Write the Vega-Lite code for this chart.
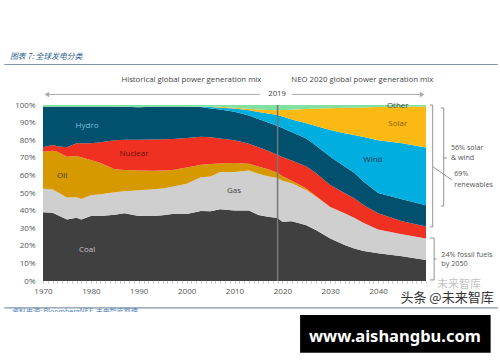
{"$schema":"https://vega.github.io/schema/vega-lite/v6.json","width":383,"height":176,"autosize":{"type":"none"},"padding":{"left":43,"top":105,"right":74,"bottom":81},"background":"#ffffff","config":{"view":{"stroke":null},"axis":{"title":null},"text":{"font":"Open Sans"}},
"datasets":{"mix":[
{"year":1970,"coal":39,"gas":52.4,"oil":73.5,"nuclear":76,"hydro":99,"wind":99,"solar":99,"other":100},
{"year":1972,"coal":38.8,"gas":52,"oil":74,"nuclear":77.3,"hydro":99,"wind":99,"solar":99,"other":100},
{"year":1973,"coal":37.5,"gas":50.5,"oil":73.5,"nuclear":76.5,"hydro":99,"wind":99,"solar":99,"other":100},
{"year":1975,"coal":35,"gas":47.4,"oil":70.6,"nuclear":76,"hydro":99,"wind":99,"solar":99,"other":100},
{"year":1977,"coal":36,"gas":47.6,"oil":71,"nuclear":78.2,"hydro":99,"wind":99,"solar":99,"other":100},
{"year":1978,"coal":35,"gas":46.6,"oil":70.3,"nuclear":78.3,"hydro":99,"wind":99,"solar":99,"other":100},
{"year":1980,"coal":37,"gas":48.7,"oil":68.8,"nuclear":78.3,"hydro":99,"wind":99,"solar":99,"other":100},
{"year":1982,"coal":37,"gas":49.3,"oil":67,"nuclear":78.8,"hydro":99,"wind":99,"solar":99,"other":100},
{"year":1985,"coal":37.7,"gas":50.4,"oil":63.5,"nuclear":80,"hydro":99,"wind":99,"solar":99,"other":100},
{"year":1987,"coal":38.5,"gas":51,"oil":63,"nuclear":80.2,"hydro":99,"wind":99,"solar":99,"other":100},
{"year":1990,"coal":37,"gas":51.5,"oil":62.8,"nuclear":80.3,"hydro":98.7,"wind":98.7,"solar":98.7,"other":100},
{"year":1993,"coal":37,"gas":52.2,"oil":62.6,"nuclear":80.4,"hydro":99,"wind":99,"solar":99,"other":100},
{"year":1995,"coal":37.3,"gas":52.5,"oil":62.8,"nuclear":80.5,"hydro":99,"wind":99,"solar":99,"other":100},
{"year":1997,"coal":38,"gas":53.5,"oil":63,"nuclear":80.7,"hydro":99,"wind":99,"solar":99,"other":100},
{"year":2000,"coal":38,"gas":55.3,"oil":64.5,"nuclear":81.2,"hydro":99,"wind":99,"solar":99,"other":100},
{"year":2003,"coal":39.8,"gas":59,"oil":66,"nuclear":82,"hydro":98.8,"wind":99,"solar":99,"other":100},
{"year":2005,"coal":39.6,"gas":59.4,"oil":66.5,"nuclear":81.7,"hydro":98,"wind":98.8,"solar":99,"other":100},
{"year":2007,"coal":40.7,"gas":62,"oil":66.8,"nuclear":81,"hydro":97.5,"wind":98.5,"solar":99,"other":100},
{"year":2010,"coal":40,"gas":62,"oil":67,"nuclear":80,"hydro":96.2,"wind":98,"solar":98.5,"other":100},
{"year":2013,"coal":40,"gas":62.8,"oil":66.6,"nuclear":78,"hydro":94,"wind":97,"solar":97.8,"other":100},
{"year":2015,"coal":37.5,"gas":61,"oil":65,"nuclear":76,"hydro":92,"wind":96,"solar":97.5,"other":100},
{"year":2017,"coal":36.5,"gas":59.5,"oil":63.5,"nuclear":74,"hydro":90,"wind":95.2,"solar":97.2,"other":100},
{"year":2019,"coal":35.8,"gas":58.5,"oil":61.5,"nuclear":71.6,"hydro":88,"wind":94.3,"solar":97,"other":100},
{"year":2020,"coal":33.6,"gas":57,"oil":59.5,"nuclear":70.5,"hydro":87,"wind":93.5,"solar":97.2,"other":100},
{"year":2022,"coal":34,"gas":55.5,"oil":57,"nuclear":68.5,"hydro":84.5,"wind":91.8,"solar":97.3,"other":100},
{"year":2025,"coal":31.7,"gas":51.5,"oil":52.5,"nuclear":65,"hydro":81,"wind":89.6,"solar":97.7,"other":100},
{"year":2027,"coal":29,"gas":48,"oil":48.3,"nuclear":61.4,"hydro":77,"wind":88,"solar":98,"other":100},
{"year":2030,"coal":24.2,"gas":42,"oil":42,"nuclear":54.5,"hydro":70.6,"wind":85.8,"solar":98.2,"other":100},
{"year":2033,"coal":20.5,"gas":38.5,"oil":38.5,"nuclear":50,"hydro":65,"wind":84,"solar":98.4,"other":100},
{"year":2035,"coal":18.5,"gas":36,"oil":36,"nuclear":47,"hydro":61.5,"wind":83,"solar":98.5,"other":100},
{"year":2037,"coal":17,"gas":33,"oil":33,"nuclear":43,"hydro":56.4,"wind":81.8,"solar":98.6,"other":100},
{"year":2040,"coal":15.7,"gas":29.2,"oil":29.2,"nuclear":38.5,"hydro":50,"wind":80,"solar":98.8,"other":100},
{"year":2045,"coal":14,"gas":26.6,"oil":26.6,"nuclear":34,"hydro":46.5,"wind":78.2,"solar":99,"other":100},
{"year":2050,"coal":11.9,"gas":24.2,"oil":24.2,"nuclear":31,"hydro":43,"wind":75.8,"solar":99.2,"other":100}
]},
"data":{"name":"mix"},
"layer":[
{"mark":{"type":"area","color":"#404040"},"encoding":{"x":{"field":"year","type":"quantitative","scale":{"domain":[1970,2050],"nice":false,"zero":false},"axis":{"tickCount":200,"values":[1970,1971,1972,1973,1974,1975,1976,1977,1978,1979,1980,1981,1982,1983,1984,1985,1986,1987,1988,1989,1990,1991,1992,1993,1994,1995,1996,1997,1998,1999,2000,2001,2002,2003,2004,2005,2006,2007,2008,2009,2010,2011,2012,2013,2014,2015,2016,2017,2018,2019,2020,2021,2022,2023,2024,2025,2026,2027,2028,2029,2030,2031,2032,2033,2034,2035,2036,2037,2038,2039,2040,2041,2042,2043,2044,2045,2046,2047,2048,2049,2050],"labelExpr":"(datum.value%10==0 && datum.value<2050) ? datum.value+'' : ''","labelOverlap":false,"labelFlush":false,"domain":false,"tickColor":"#bbbbbb","tickSize":2,"labelColor":"#555555","labelFont":"Open Sans","labelFontSize":8,"labelPadding":4,"labelDx":-2,"grid":false,"title":null}},"y":{"field":"coal","type":"quantitative","scale":{"domain":[0,100],"nice":false},"axis":{"tickCount":20,"values":[0,10,20,30,40,50,60,70,80,90,100],"labelExpr":"datum.value+'%'","labelOverlap":false,"labelFlush":false,"domain":false,"ticks":false,"labelColor":"#555555","labelFont":"Open Sans","labelFontSize":8,"labelPadding":8,"grid":false,"title":null}}}},
{"mark":{"type":"area","color":"#cfcfcf"},"encoding":{"x":{"field":"year","type":"quantitative"},"y":{"field":"gas","type":"quantitative"},"y2":{"field":"coal"}}},
{"mark":{"type":"area","color":"#d69a00"},"encoding":{"x":{"field":"year","type":"quantitative"},"y":{"field":"oil","type":"quantitative"},"y2":{"field":"gas"}}},
{"mark":{"type":"area","color":"#f03020"},"encoding":{"x":{"field":"year","type":"quantitative"},"y":{"field":"nuclear","type":"quantitative"},"y2":{"field":"oil"}}},
{"mark":{"type":"area","color":"#00506e"},"encoding":{"x":{"field":"year","type":"quantitative"},"y":{"field":"hydro","type":"quantitative"},"y2":{"field":"nuclear"}}},
{"mark":{"type":"area","color":"#00aee0"},"encoding":{"x":{"field":"year","type":"quantitative"},"y":{"field":"wind","type":"quantitative"},"y2":{"field":"hydro"}}},
{"mark":{"type":"area","color":"#fdb913"},"encoding":{"x":{"field":"year","type":"quantitative"},"y":{"field":"solar","type":"quantitative"},"y2":{"field":"wind"}}},
{"mark":{"type":"area","color":"#7fe0a0"},"encoding":{"x":{"field":"year","type":"quantitative"},"y":{"field":"other","type":"quantitative"},"y2":{"field":"solar"}}},
{"data":{"values":[{"x1":2019,"x2":2019,"p1":0,"p2":100}]},"mark":{"type":"rule","color":"#777777","strokeWidth":1.5},"encoding":{"x":{"field":"x1","type":"quantitative"},"x2":{"field":"x2"},"y":{"field":"p1","type":"quantitative"},"y2":{"field":"p2"}}},
{"data":{"values":[
{"x1":2051.4,"x2":2051.4,"p1":100,"p2":30.7},{"x1":2050.8,"x2":2051.4,"p1":100,"p2":100},{"x1":2050.8,"x2":2051.4,"p1":30.7,"p2":30.7},
{"x1":2053.7,"x2":2053.7,"p1":98.3,"p2":42.6},{"x1":2053.1,"x2":2053.7,"p1":98.3,"p2":98.3},{"x1":2053.1,"x2":2053.7,"p1":42.6,"p2":42.6},{"x1":2053.7,"x2":2054.4,"p1":69.9,"p2":69.9},
{"x1":2051.7,"x2":2051.7,"p1":24.4,"p2":0.6},{"x1":2050.8,"x2":2051.7,"p1":24.4,"p2":24.4},{"x1":2050.8,"x2":2051.7,"p1":0.6,"p2":0.6},{"x1":2051.7,"x2":2052.2,"p1":12.5,"p2":12.5},
{"x1":2051.5,"x2":2055.4,"p1":64.8,"p2":57.4}]},"mark":{"type":"rule","color":"#777777","strokeWidth":0.8},"encoding":{"x":{"field":"x1","type":"quantitative"},"x2":{"field":"x2"},"y":{"field":"p1","type":"quantitative"},"y2":{"field":"p2"}}},
{"data":{"values":[{"x1":1970.6,"x2":2015.3,"p1":106,"p2":106},{"x1":2022,"x2":2049.4,"p1":106,"p2":106}]},"mark":{"type":"rule","color":"#aaaaaa","strokeWidth":1},"encoding":{"x":{"field":"x1","type":"quantitative"},"x2":{"field":"x2"},"y":{"field":"p1","type":"quantitative"},"y2":{"field":"p2"}}},
{"data":{"values":[{"x1":1961.9,"x2":2065,"p1":123,"p2":123},{"x1":1961.9,"x2":2065,"p1":-15.3,"p2":-15.3}]},"mark":{"type":"rule","color":"#7f97ad","strokeWidth":1.2},"encoding":{"x":{"field":"x1","type":"quantitative"},"x2":{"field":"x2"},"y":{"field":"p1","type":"quantitative"},"y2":{"field":"p2"}}},
{"data":{"values":[{"year":1970.8,"pct":106}]},"mark":{"type":"point","shape":"triangle-left","filled":true,"color":"#aaaaaa","size":30,"opacity":1},"encoding":{"x":{"field":"year","type":"quantitative"},"y":{"field":"pct","type":"quantitative"}}},
{"data":{"values":[{"year":2049.2,"pct":106}]},"mark":{"type":"point","shape":"triangle-right","filled":true,"color":"#aaaaaa","size":30,"opacity":1},"encoding":{"x":{"field":"year","type":"quantitative"},"y":{"field":"pct","type":"quantitative"}}},
{"data":{"values":[{"year":1979.2,"pct":88,"label":"Hydro"},{"year":1989,"pct":72,"label":"Nuclear"},{"year":1974,"pct":59.8,"label":"Oil"},{"year":2009.9,"pct":51.2,"label":"Gas"},{"year":1979.2,"pct":17.6,"label":"Coal"},{"year":2038.9,"pct":68.9,"label":"Wind"},{"year":2044.1,"pct":89.2,"label":"Solar"},{"year":2044.1,"pct":99.4,"label":"Other"}]},"mark":{"type":"text","fontSize":8,"align":"center","baseline":"middle","font":"Open Sans"},"encoding":{"x":{"field":"year","type":"quantitative"},"y":{"field":"pct","type":"quantitative"},"text":{"field":"label"},"color":{"field":"label","type":"nominal","legend":null,"sort":null,"scale":{"domain":["Hydro","Nuclear","Oil","Gas","Coal","Wind","Solar","Other"],"range":["#7fc0d8","#6a1010","#4d3a00","#444444","#c4c4c4","#0a3a50","#8a5a00","#3a4a30"]}}}},
{"data":{"values":[{"year":2001,"pct":114.2,"label":"Historical global power generation mix"},{"year":2036.7,"pct":114.2,"label":"NEO 2020  global power generation mix"},{"year":2018.9,"pct":106,"label":"2019"}]},"mark":{"type":"text","fontSize":7.8,"align":"center","baseline":"middle","color":"#444444","font":"Open Sans"},"encoding":{"x":{"field":"year","type":"quantitative"},"y":{"field":"pct","type":"quantitative"},"text":{"field":"label"}}},
{"data":{"values":[{"year":2055.2,"pct":75.6,"label":"56% solar"},{"year":2055.2,"pct":69.9,"label":"& wind"},{"year":2055.9,"pct":60.8,"label":"69%"},{"year":2055.9,"pct":54.7,"label":"renewables"},{"year":2053.2,"pct":14.6,"label":"24% fossil fuels"},{"year":2053.2,"pct":9.4,"label":"by 2050"}]},"mark":{"type":"text","fontSize":7.2,"align":"left","baseline":"middle","color":"#555555","font":"Open Sans"},"encoding":{"x":{"field":"year","type":"quantitative"},"y":{"field":"pct","type":"quantitative"},"text":{"field":"label"}}},
{"data":{"values":[{"year":1963.1,"pct":127.3,"label":"图表 7:  全球发电分类"}]},"mark":{"type":"text","fontSize":7.8,"align":"left","baseline":"middle","color":"#2f5f8f","fontStyle":"italic","font":"Noto Sans CJK SC"},"encoding":{"x":{"field":"year","type":"quantitative"},"y":{"field":"pct","type":"quantitative"},"text":{"field":"label"}}},
{"data":{"values":[{"year":1963.5,"pct":-17.6,"label":"资料来源:  BloombergNEF,  未来智库整理"}]},"mark":{"type":"text","fontSize":7,"align":"left","baseline":"middle","color":"#4f7fb5","font":"Noto Sans CJK SC"},"encoding":{"x":{"field":"year","type":"quantitative"},"y":{"field":"pct","type":"quantitative"},"text":{"field":"label"}}},
{"data":{"values":[{"x1":1961,"x2":2065.4,"p1":-17.6,"p2":-46}]},"mark":{"type":"rect","color":"#ffffff"},"encoding":{"x":{"field":"x1","type":"quantitative"},"x2":{"field":"x2"},"y":{"field":"p1","type":"quantitative"},"y2":{"field":"p2"}}},
{"data":{"values":[{"x1":2023.7,"x2":2063.5,"p1":-19.3,"p2":-40.7}]},"mark":{"type":"rect","color":"#000000"},"encoding":{"x":{"field":"x1","type":"quantitative"},"x2":{"field":"x2"},"y":{"field":"p1","type":"quantitative"},"y2":{"field":"p2"}}},
{"data":{"values":[{"year":2043.5,"pct":-31.8,"label":"www.aishangbu.com"}]},"mark":{"type":"text","fontSize":16.5,"fontWeight":"bold","align":"center","baseline":"middle","color":"#ffffff","font":"Noto Sans"},"encoding":{"x":{"field":"year","type":"quantitative"},"y":{"field":"pct","type":"quantitative"},"text":{"field":"label"}}},
{"data":{"values":[{"year":2056.9,"pct":-2.4,"label":"未来智库"}]},"mark":{"type":"text","fontSize":11,"align":"center","baseline":"middle","color":"#c4c4c4","font":"Noto Sans CJK SC"},"encoding":{"x":{"field":"year","type":"quantitative"},"y":{"field":"pct","type":"quantitative"},"text":{"field":"label"}}},
{"data":{"values":[{"year":2054.4,"pct":-9.6,"label":"头条 @未来智库"}]},"mark":{"type":"text","fontSize":13,"align":"center","baseline":"middle","color":"#333333","font":"Noto Sans CJK SC"},"encoding":{"x":{"field":"year","type":"quantitative"},"y":{"field":"pct","type":"quantitative"},"text":{"field":"label"}}}
]}
